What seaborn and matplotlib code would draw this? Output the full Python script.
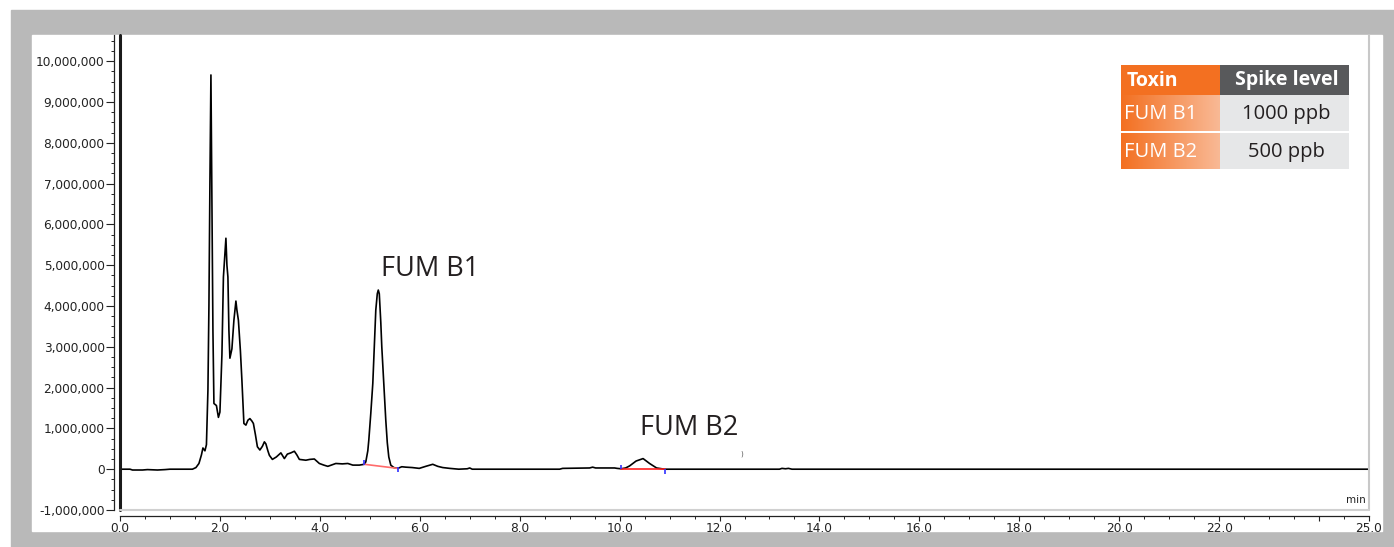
import numpy as np
import matplotlib
matplotlib.use("Agg")
import matplotlib.pyplot as plt
import seaborn as sns
from matplotlib.patches import Rectangle
from matplotlib.ticker import FuncFormatter, MultipleLocator, FixedLocator
from matplotlib.colors import LinearSegmentedColormap

# chromatogram trace (time in min, signal in millions of counts)
time_min = [
    0.00, 0.20, 0.25, 0.45, 0.55, 0.75, 0.90, 1.00, 1.45, 1.52,
    1.58, 1.63, 1.66, 1.70, 1.73, 1.76, 1.78, 1.80, 1.82, 1.835,
    1.86, 1.88, 1.93, 1.97, 2.00, 2.04, 2.07, 2.10, 2.12, 2.14,
    2.16, 2.18, 2.20, 2.24, 2.28, 2.32, 2.34, 2.37, 2.41, 2.44,
    2.48, 2.52, 2.56, 2.60, 2.64, 2.67, 2.71, 2.75, 2.80, 2.85,
    2.89, 2.92, 2.96, 2.99, 3.05, 3.13, 3.22, 3.29, 3.35, 3.42,
    3.49, 3.54, 3.59, 3.72, 3.80, 3.89, 3.99, 4.08, 4.16, 4.32,
    4.45, 4.56, 4.66, 4.79, 4.89, 4.92, 4.96, 4.98, 5.02, 5.06,
    5.09, 5.12, 5.15, 5.17, 5.19, 5.22, 5.24, 5.28, 5.32, 5.35,
    5.38, 5.42, 5.48, 5.56, 5.64, 5.72, 5.85, 5.99, 6.12, 6.26,
    6.36, 6.46, 6.60, 6.78, 6.95, 7.00, 7.05, 8.80, 8.86, 9.40,
    9.46, 9.52, 9.90, 9.95, 10.03, 10.12, 10.20, 10.33, 10.47, 10.60,
    10.74, 10.90, 13.20, 13.25, 13.32, 13.38, 13.45, 25.00,
]
signal_m = [
    0.00, 0.00, -0.02, -0.02, -0.01, -0.02, -0.01, 0.00, 0.00, 0.04,
    0.14, 0.35, 0.52, 0.45, 0.60, 1.94, 4.00, 7.03, 9.66, 7.28,
    3.40, 1.61, 1.56, 1.27, 1.40, 2.80, 4.71, 5.30, 5.66, 5.00,
    4.71, 3.40, 2.72, 2.95, 3.65, 4.12, 3.90, 3.65, 2.90, 2.18,
    1.12, 1.08, 1.20, 1.24, 1.18, 1.12, 0.85, 0.55, 0.47, 0.56,
    0.67, 0.62, 0.45, 0.34, 0.24, 0.30, 0.40, 0.26, 0.37, 0.40,
    0.44, 0.35, 0.24, 0.22, 0.24, 0.25, 0.14, 0.10, 0.07, 0.14,
    0.13, 0.14, 0.10, 0.10, 0.12, 0.18, 0.45, 0.71, 1.37, 2.10,
    3.00, 3.90, 4.30, 4.39, 4.30, 3.60, 3.00, 2.10, 1.20, 0.65,
    0.30, 0.10, 0.04, 0.02, 0.06, 0.05, 0.04, 0.02, 0.07, 0.12,
    0.07, 0.04, 0.02, 0.00, 0.01, 0.03, 0.00, 0.00, 0.02, 0.03,
    0.05, 0.03, 0.03, 0.02, 0.01, 0.03, 0.08, 0.20, 0.26, 0.14,
    0.03, 0.00, 0.00, 0.02, 0.01, 0.02, 0.00, 0.00,
]

# integration baselines and their start/end markers
base_b1_t = [4.89, 5.56]
base_b1_y = [0.12, 0.02]
base_b2_t = [10.03, 10.90]
base_b2_y = [0.00, 0.00]
mark_t = [4.89, 5.56, 10.03, 10.90]
mark_lo = [0.10, -0.07, 0.00, -0.12]
mark_hi = [0.22, 0.05, 0.10, 0.00]

peak_names = ["FUM B1", "FUM B2"]
peak_label_t = [5.23, 10.40]
peak_label_y = [4.73, 0.83]

y_ticks_m = list(range(-1, 11))
x_ticks = [0, 2, 4, 6, 8, 10, 12, 14, 16, 18, 20, 22, 24, 25]
x_tick_labels = ["0.0", "2.0", "4.0", "6.0", "8.0", "10.0", "12.0", "14.0",
                 "16.0", "18.0", "20.0", "22.0", "", "25.0"]

table_header = ["Toxin", "Spike level"]
toxins = ["FUM B1", "FUM B2"]
spike_levels = ["1000 ppb", "500 ppb"]

W, H = 1394, 547
sns.set_theme(style="white")
plt.rcParams["font.family"] = ["DejaVu Sans"]

fig = plt.figure(figsize=(W / 100, H / 100), dpi=100)
fig.patch.set_facecolor("white")
fig.add_artist(Rectangle((11 / W, 0), (W - 11) / W, (H - 10) / H,
                         transform=fig.transFigure, color="#b9b9b9", zorder=-10))
fig.add_artist(Rectangle((32 / W, (H - 531) / H), 1350 / W, 496 / H,
                         transform=fig.transFigure, color="white", zorder=-9))

ax = fig.add_axes([120 / W, (H - 510) / H, 1249 / W, 475 / H])
t = np.array(time_min)
s = np.array(signal_m) * 1e6
sns.lineplot(x=t, y=s, ax=ax, color="black", lw=1.2, estimator=None, sort=False)
ax.plot(base_b1_t, np.array(base_b1_y) * 1e6, color="#ff6b6b", lw=1.2)
ax.plot(base_b2_t, np.array(base_b2_y) * 1e6, color="#ff2020", lw=1.2)
ax.vlines(mark_t, np.array(mark_lo) * 1e6, np.array(mark_hi) * 1e6, color="#3030ff", lw=1.2)

ax.set_xlim(0, 25)
ax.set_ylim(-1.0e6, 10.64e6)
ax.set_xlabel("")
ax.set_ylabel("")

for name, lt, ly in zip(peak_names, peak_label_t, peak_label_y):
    ax.text(lt, ly * 1e6, name, fontsize=19.5, family="Open Sans", color="#231f20",
            ha="left", va="baseline")
ax.text(12.44, 0.39e6, ")", fontsize=5, color="#555555", ha="center", va="center")
ax.text(0.997, 0.01, "min", transform=ax.transAxes, ha="right", va="bottom",
        fontsize=7.5, color="#222222")

# axes spines like the instrument software
for side in ["top", "right"]:
    ax.spines[side].set_visible(False)
ax.spines["left"].set_position(("outward", 4.3))
ax.spines["bottom"].set_position(("outward", 4.3))
for side in ["left", "bottom"]:
    ax.spines[side].set_color("#222222")
    ax.spines[side].set_linewidth(0.9)
ax.plot([0, 0], [0, 1], transform=ax.transAxes, color="#1a1a1a", lw=2.2, clip_on=False)
ax.plot([1, 1], [0, 1], transform=ax.transAxes, color="#c8c8c8", lw=1.5, clip_on=False)
ax.plot([0, 1], [0, 0], transform=ax.transAxes, color="#d0d0d0", lw=1.5, clip_on=False)

ax.yaxis.set_major_locator(FixedLocator([v * 1e6 for v in y_ticks_m]))
ax.yaxis.set_minor_locator(MultipleLocator(250000))
ax.yaxis.set_major_formatter(FuncFormatter(lambda v, p: f"{v:,.0f}"))
ax.set_xticks(x_ticks)
ax.set_xticklabels(x_tick_labels)
ax.xaxis.set_minor_locator(MultipleLocator(0.5))
ax.tick_params(axis="both", which="both", left=True, bottom=True, direction="out",
               colors="#222222", labelsize=8.7)
ax.tick_params(axis="y", which="major", length=5.8, width=0.8, pad=1)
ax.tick_params(axis="y", which="minor", length=2.5, width=0.7)
ax.tick_params(axis="x", which="major", length=3.6, width=0.8, pad=1)
ax.tick_params(axis="x", which="minor", length=2.0, width=0.7)

# spike level table
tab = fig.add_axes([1121 / W, (H - 169) / H, 228 / W, 104 / H])
tab.axis("off")
tab.add_patch(Rectangle((0, 0), 99, 30, color="#f37021", lw=0))
tab.add_patch(Rectangle((99, 0), 129, 30, color="#58595b", lw=0))
tab.text(6, 15.5, table_header[0], color="white", fontsize=14, fontweight="bold",
         family="Open Sans", ha="left", va="center")
tab.text(166, 15.5, table_header[1], color="white", fontsize=14, fontweight="bold",
         family="Open Sans", ha="center", va="center")
grad = LinearSegmentedColormap.from_list("fade", ["#f37021", "#f9b995"])
for i, (tox, lvl) in enumerate(zip(toxins, spike_levels)):
    y0 = 30 + i * 38
    tab.imshow(np.linspace(0, 1, 128).reshape(1, -1), cmap=grad, aspect="auto",
               extent=(0, 99, y0 + 36, y0))
    tab.add_patch(Rectangle((99, y0), 129, 36, color="#e6e7e8", lw=0))
    tab.text(3, y0 + 19, tox, color="white", fontsize=14.5, family="Open Sans",
             ha="left", va="center")
    tab.text(165, y0 + 19, lvl, color="#231f20", fontsize=14.5, family="Open Sans",
             ha="center", va="center")
tab.set_xlim(0, 228)
tab.set_ylim(104, 0)

fig.savefig("out.png", dpi=100)
